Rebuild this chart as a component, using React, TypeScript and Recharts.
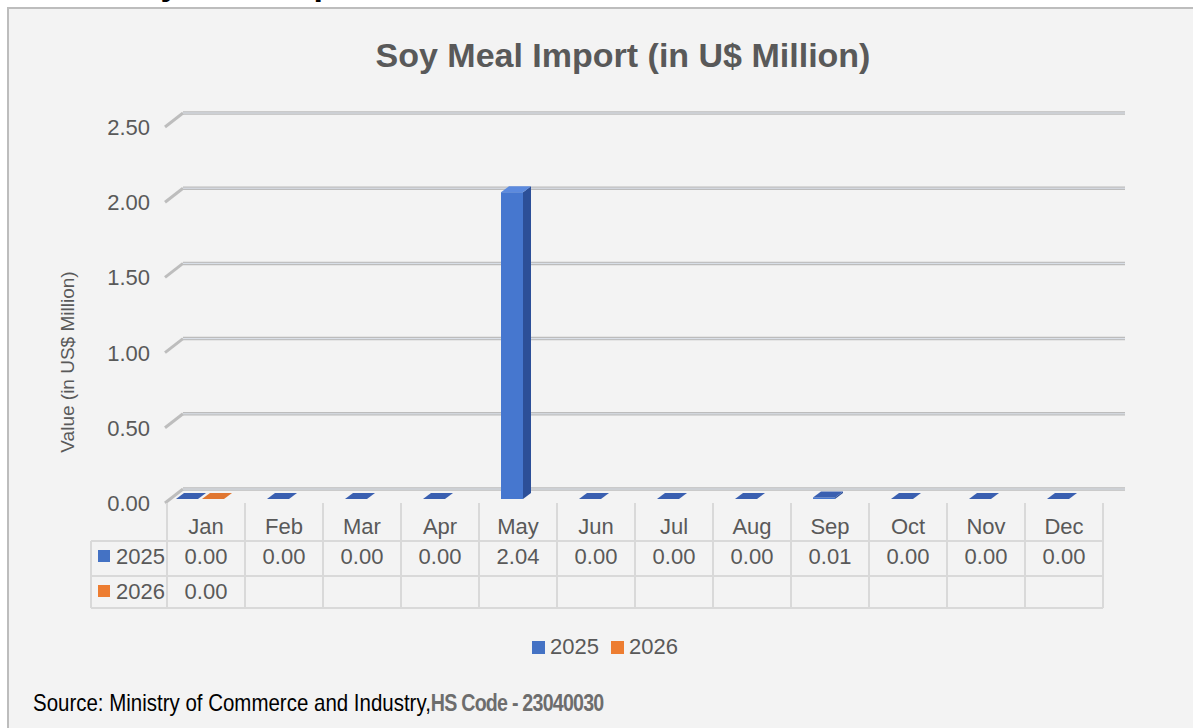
import React from 'react';
import { BarChart, Bar, XAxis, YAxis, CartesianGrid } from 'recharts';

const months = ['Jan', 'Feb', 'Mar', 'Apr', 'May', 'Jun', 'Jul', 'Aug', 'Sep', 'Oct', 'Nov', 'Dec'];
const imports2025 = [0, 0, 0, 0, 2.04, 0, 0, 0, 0.01, 0, 0, 0];
const imports2026: (number | null)[] = [0, null, null, null, null, null, null, null, null, null, null, null];
const yTicks = [0, 0.5, 1, 1.5, 2, 2.5];

const data = months.map((m, i) => ({ month: m, y2025: imports2025[i], y2026: imports2026[i] }));

const FONT = '"Liberation Sans", Arial, sans-serif';
const TEXT = '#595959';
const W = 1193;
const H = 650;
const PLOT_LEFT = 167;
const PLOT_RIGHT = 1103;
const PLOT_TOP = 120;
const PLOT_BOTTOM = 496;
const X_AXIS_H = 120;
const BAND = (PLOT_RIGHT - PLOT_LEFT) / months.length;
const BAR = 22;
const GAP = 4;
const DX = 8;
const DY = 6;

const BLUE = { front: '#4677cf', side: '#2c4f98', top: '#3a5fb0', lit: '#5c8ade' };
const ORANGE = { front: '#ed7d31', side: '#b35a1e', top: '#e07630', lit: '#f4a062' };
const LINE = '#d9d9d9';

function Bar3D(props: any) {
  const { x, y, width, height, payload, colors, keyName, center } = props;
  if (payload == null || payload[keyName] == null) return null;
  const shift = center && payload.y2026 == null ? (BAR + GAP) / 2 : 0;
  const x0 = x - DX / 2 - 2 + shift;
  const y0 = y + DY / 2;
  const h = Math.max(0, height || 0);
  const w = width;
  const tall = h > 3;
  return (
    <g>
      {h > 0 && <rect x={x0} y={y0} width={w} height={h} fill={colors.front} />}
      {h > 0 && (
        <polygon
          points={`${x0 + w},${y0} ${x0 + w + DX},${y0 - DY} ${x0 + w + DX},${y0 + h - DY} ${x0 + w},${y0 + h}`}
          fill={colors.side}
        />
      )}
      <polygon
        points={`${x0},${y0} ${x0 + DX},${y0 - DY} ${x0 + w + DX},${y0 - DY} ${x0 + w},${y0}`}
        fill={tall ? colors.lit : colors.top}
      />
    </g>
  );
}

function GridLine(p: any) {
  const { x1, x2, y1 } = p;
  return (
    <g key={p.key}>
      <line x1={x1 - 2} y1={y1 + 7} x2={x1 + 16} y2={y1 - 7} stroke="#bdbdbd" strokeWidth={3} />
      <line x1={x1 + 16} y1={y1 - 7} x2={x2 + 22} y2={y1 - 7} stroke="#bcbcbc" strokeWidth={3.5} />
      <line x1={x1 + 16} y1={y1 - 7} x2={x2 + 22} y2={y1 - 7} stroke="#dde3ec" strokeWidth={1} />
    </g>
  );
}

function YTick(props: any) {
  const { x, y, payload } = props;
  return (
    <text x={x - 17} y={y + 15} textAnchor="end" fill={TEXT} fontSize={22} fontFamily={FONT}>
      {Number(payload.value).toFixed(2)}
    </text>
  );
}

function fmt(v: number | null) {
  return v == null ? '' : v.toFixed(2);
}

function TableTick(props: any) {
  const { x, y, payload, index } = props;
  const i = payload.index ?? index;
  const left = x - BAND / 2;
  const right = x + BAND / 2;
  const top = y + 7;
  const rows = [y + 45, y + 80, y + 112];
  return (
    <g fontFamily={FONT} fontSize={22} fill={TEXT}>
      {rows.map((ry, k) => (
        <line key={k} x1={left} y1={ry} x2={right} y2={ry} stroke={LINE} strokeWidth={2} />
      ))}
      <line x1={right} y1={top} x2={right} y2={rows[2]} stroke={LINE} strokeWidth={2} />
      {i === 0 && (
        <g>
          <line x1={left} y1={top} x2={left} y2={rows[2]} stroke={LINE} strokeWidth={2} />
          {rows.map((ry, k) => (
            <line key={k} x1={91} y1={ry} x2={left} y2={ry} stroke={LINE} strokeWidth={2} />
          ))}
          <line x1={91} y1={rows[0]} x2={91} y2={rows[2]} stroke={LINE} strokeWidth={2} />
          <rect x={98} y={y + 54} width={12} height={12} fill="#4472c4" />
          <text x={116} y={y + 68}>2025</text>
          <rect x={98} y={y + 89} width={12} height={12} fill="#ed7d31" />
          <text x={116} y={y + 103}>2026</text>
        </g>
      )}
      <text x={x} y={y + 38} textAnchor="middle">{payload.value}</text>
      <text x={x} y={y + 68} textAnchor="middle">{fmt(imports2025[i])}</text>
      <text x={x} y={y + 103} textAnchor="middle">{fmt(imports2026[i])}</text>
    </g>
  );
}

export default function App() {
  return (
    <div style={{ position: 'relative', width: W, height: 728, overflow: 'hidden', background: '#ffffff', fontFamily: FONT }}>
      <style>{'body{margin:0}'}</style>
      <div
        style={{
          position: 'absolute', left: 117, top: -37, fontSize: 34, fontWeight: 'bold', color: '#000',
          lineHeight: '40px', whiteSpace: 'nowrap',
        }}
      >
        Soy Meal Import
      </div>
      <div
        style={{
          position: 'absolute', left: 7, top: 7, width: 1220, height: 740, background: '#f3f3f3',
          borderLeft: '2px solid #bdbdbd', borderTop: '2px solid #bdbdbd',
        }}
      />
      <div
        style={{
          position: 'absolute', left: 0, top: 37, width: 1246, textAlign: 'center', fontSize: 34,
          fontWeight: 'bold', color: TEXT, lineHeight: '36px',
        }}
      >
        Soy Meal Import (in U$ Million)
      </div>
      <div style={{ position: 'absolute', left: 0, top: 0 }}>
        <BarChart
          width={W}
          height={H}
          data={data}
          margin={{ top: PLOT_TOP, right: W - PLOT_RIGHT, left: 0, bottom: H - PLOT_BOTTOM - X_AXIS_H }}
          barSize={BAR}
          barGap={GAP}
        >
          <CartesianGrid vertical={false} horizontal={(p: any) => <GridLine {...p} />} />
          <XAxis
            dataKey="month"
            height={X_AXIS_H}
            axisLine={false}
            tickLine={false}
            tickSize={0}
            tickMargin={0}
            interval={0}
            tick={<TableTick />}
          />
          <YAxis
            width={PLOT_LEFT}
            domain={[0, 2.5]}
            ticks={yTicks}
            axisLine={false}
            tickLine={false}
            tickSize={0}
            tickMargin={0}
            tick={<YTick />}
            label={{
              content: () => (
                <text
                  transform="translate(74,362) rotate(-90)"
                  textAnchor="middle"
                  fill={TEXT}
                  fontSize={19}
                  fontFamily={FONT}
                >
                  Value (in US$ Million)
                </text>
              ),
            }}
          />
          <Bar
            dataKey="y2025"
            fill="#4472c4"
            isAnimationActive={false}
            shape={(p: any) => <Bar3D {...p} colors={BLUE} keyName="y2025" center />}
          />
          <Bar
            dataKey="y2026"
            fill="#ed7d31"
            isAnimationActive={false}
            shape={(p: any) => <Bar3D {...p} colors={ORANGE} keyName="y2026" />}
          />
        </BarChart>
      </div>
      <div
        style={{
          position: 'absolute', left: 532, top: 635, display: 'flex', alignItems: 'center',
          fontSize: 22, color: TEXT, lineHeight: '24px',
        }}
      >
        <span style={{ width: 13, height: 13, background: '#4472c4', display: 'inline-block', marginRight: 5 }} />
        <span style={{ marginRight: 12 }}>2025</span>
        <span style={{ width: 13, height: 13, background: '#ed7d31', display: 'inline-block', marginRight: 5 }} />
        <span>2026</span>
      </div>
      <div
        style={{
          position: 'absolute', left: 33, top: 690, fontSize: 24, color: '#000', whiteSpace: 'nowrap',
          transform: 'scaleX(0.853)', transformOrigin: 'left center', lineHeight: '26px',
        }}
      >
        Source: Ministry of Commerce and Industry,
        <span style={{ fontWeight: 'bold', color: '#6d6d6d', fontSize: 23, letterSpacing: '-0.9px' }}>
          HS Code - 23040030
        </span>
      </div>
    </div>
  );
}
